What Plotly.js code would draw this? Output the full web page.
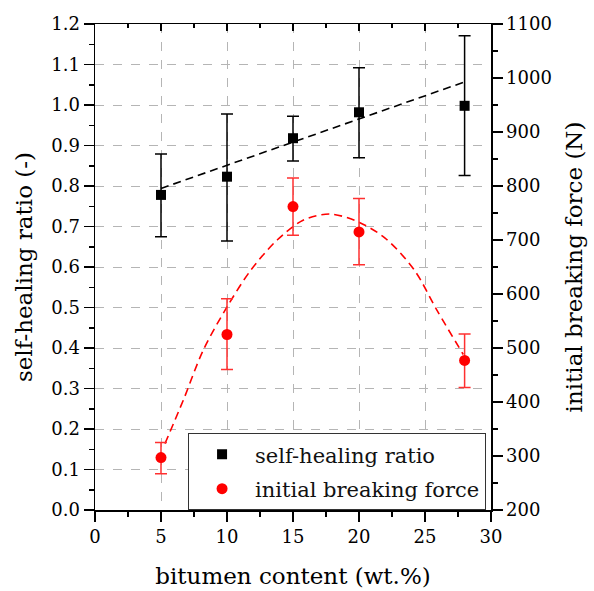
<!DOCTYPE html>
<html>
<head>
<meta charset="utf-8">
<script src="https://cdn.plot.ly/plotly-3.0.1.min.js"></script>
<style>html,body{margin:0;padding:0;background:#fff}#chart{width:594px;height:591px}</style>
</head>
<body>
<div id="chart"></div>
<script>
// Data
var bitumen = [5, 10, 15, 20, 28];
var healRatio = [0.778, 0.823, 0.918, 0.982, 0.998];
var healErrPlus = [0.101, 0.155, 0.054, 0.110, 0.173];
var healErrMinus = [0.103, 0.159, 0.056, 0.112, 0.172];
var breakForce = [297, 525, 762, 715, 477];
var forceErrPlus = [28, 66, 53, 62, 49];
var forceErrMinus = [30, 65, 53, 61, 50];
var healFitX = [5, 28];
var healFitY = [0.794, 1.057];
var forceFitX = [5.3, 6.7, 8.2, 10, 11.8, 13.8, 15.8, 17.8, 19.9, 22, 24.2, 25.9, 27.9];
var forceFitY = [323, 404, 496, 576, 644, 700, 737, 748, 734, 703, 644, 570, 488];

var serif = 'DejaVu Serif';

var traces = [
  {x: healFitX, y: healFitY, type: 'scatter', mode: 'lines', xaxis: 'x', yaxis: 'y',
   line: {color: '#000', width: 1.6, dash: '8px,5px'}, showlegend: false, hoverinfo: 'skip'},
  {x: forceFitX, y: forceFitY, type: 'scatter', mode: 'lines', xaxis: 'x', yaxis: 'y2',
   line: {color: '#ff0000', width: 1.6, dash: '8px,5px', shape: 'spline', smoothing: 0.9},
   showlegend: false, hoverinfo: 'skip'},
  {x: bitumen, y: healRatio, name: 'self-healing ratio', type: 'scatter', mode: 'markers',
   xaxis: 'x', yaxis: 'y', legendgroup: 'a',
   marker: {symbol: 'square', size: 10, color: '#000'},
   error_y: {type: 'data', symmetric: false, array: healErrPlus, arrayminus: healErrMinus,
             color: '#000', thickness: 1.5, width: 6}},
  {x: bitumen, y: breakForce, name: 'initial breaking force', type: 'scatter', mode: 'markers',
   xaxis: 'x', yaxis: 'y2', legendgroup: 'b',
   marker: {symbol: 'circle', size: 11, color: '#ff0000'},
   error_y: {type: 'data', symmetric: false, array: forceErrPlus, arrayminus: forceErrMinus,
             color: '#ff3030', thickness: 1.5, width: 6}},
  {x: [0, 30], y: [0, 0], type: 'scatter', mode: 'markers', xaxis: 'x2', yaxis: 'y',
   marker: {opacity: 0}, showlegend: false, hoverinfo: 'skip'}
];

var layout = {
  width: 594, height: 591,
  margin: {l: 95, r: 103, t: 24, b: 81},
  paper_bgcolor: '#fff', plot_bgcolor: '#fff',
  font: {family: serif, color: '#000', size: 18},
  showlegend: true,
  legend: {x: 0.235, y: 0.158, xanchor: 'left', yanchor: 'top',
           bordercolor: '#333', borderwidth: 1, bgcolor: '#fff',
           font: {family: serif, size: 21, color: '#111'},
           tracegroupgap: 4, itemwidth: 56},
  xaxis: {range: [0, 30], dtick: 5, tick0: 0, ticks: 'outside', ticklen: 10, tickwidth: 1.5,
          tickcolor: '#000', showline: true, linecolor: '#000', linewidth: 1.5,
          showgrid: true, gridcolor: '#b5b5b5', griddash: 'dash', gridwidth: 1,
          zeroline: false, tickfont: {family: serif, size: 18},
          minor: {dtick: 2.5, ticks: 'outside', ticklen: 5, tickwidth: 1.5, tickcolor: '#000', showgrid: false},
          title: {text: 'bitumen content (wt.%)', font: {family: serif, size: 23}, standoff: 22}},
  xaxis2: {range: [0, 30], dtick: 5, overlaying: 'x', side: 'top', ticks: 'inside', ticklen: 7,
           tickwidth: 1.5, tickcolor: '#000', showticklabels: false, showline: true,
           linecolor: '#000', linewidth: 1.5, showgrid: false, zeroline: false,
           minor: {dtick: 2.5, ticks: 'inside', ticklen: 4, tickwidth: 1.5, tickcolor: '#000', showgrid: false}},
  yaxis: {range: [0, 1.2], dtick: 0.1, tick0: 0, tickformat: '.1f', ticks: 'outside', ticklen: 10,
          tickwidth: 1.5, tickcolor: '#000', showline: true, linecolor: '#000', linewidth: 1.5,
          showgrid: true, gridcolor: '#b5b5b5', griddash: 'dash', gridwidth: 1, zeroline: false,
          tickfont: {family: serif, size: 18},
          minor: {dtick: 0.05, ticks: 'outside', ticklen: 5, tickwidth: 1.5, tickcolor: '#000', showgrid: false},
          title: {text: 'self-healing ratio (-)', font: {family: serif, size: 23}, standoff: 12}},
  yaxis2: {range: [200, 1100], dtick: 100, tick0: 200, overlaying: 'y', side: 'right',
           ticks: 'outside', ticklen: 10, tickwidth: 1.5, tickcolor: '#000', showline: true,
           linecolor: '#000', linewidth: 1.5, showgrid: false, zeroline: false,
           tickfont: {family: serif, size: 18},
           minor: {dtick: 50, ticks: 'outside', ticklen: 5, tickwidth: 1.5, tickcolor: '#000', showgrid: false},
           title: {text: 'initial breaking force (N)', font: {family: serif, size: 23}, standoff: 15}}
};

Plotly.newPlot('chart', traces, layout, {displayModeBar: false, staticPlot: true});
</script>
</body>
</html>
